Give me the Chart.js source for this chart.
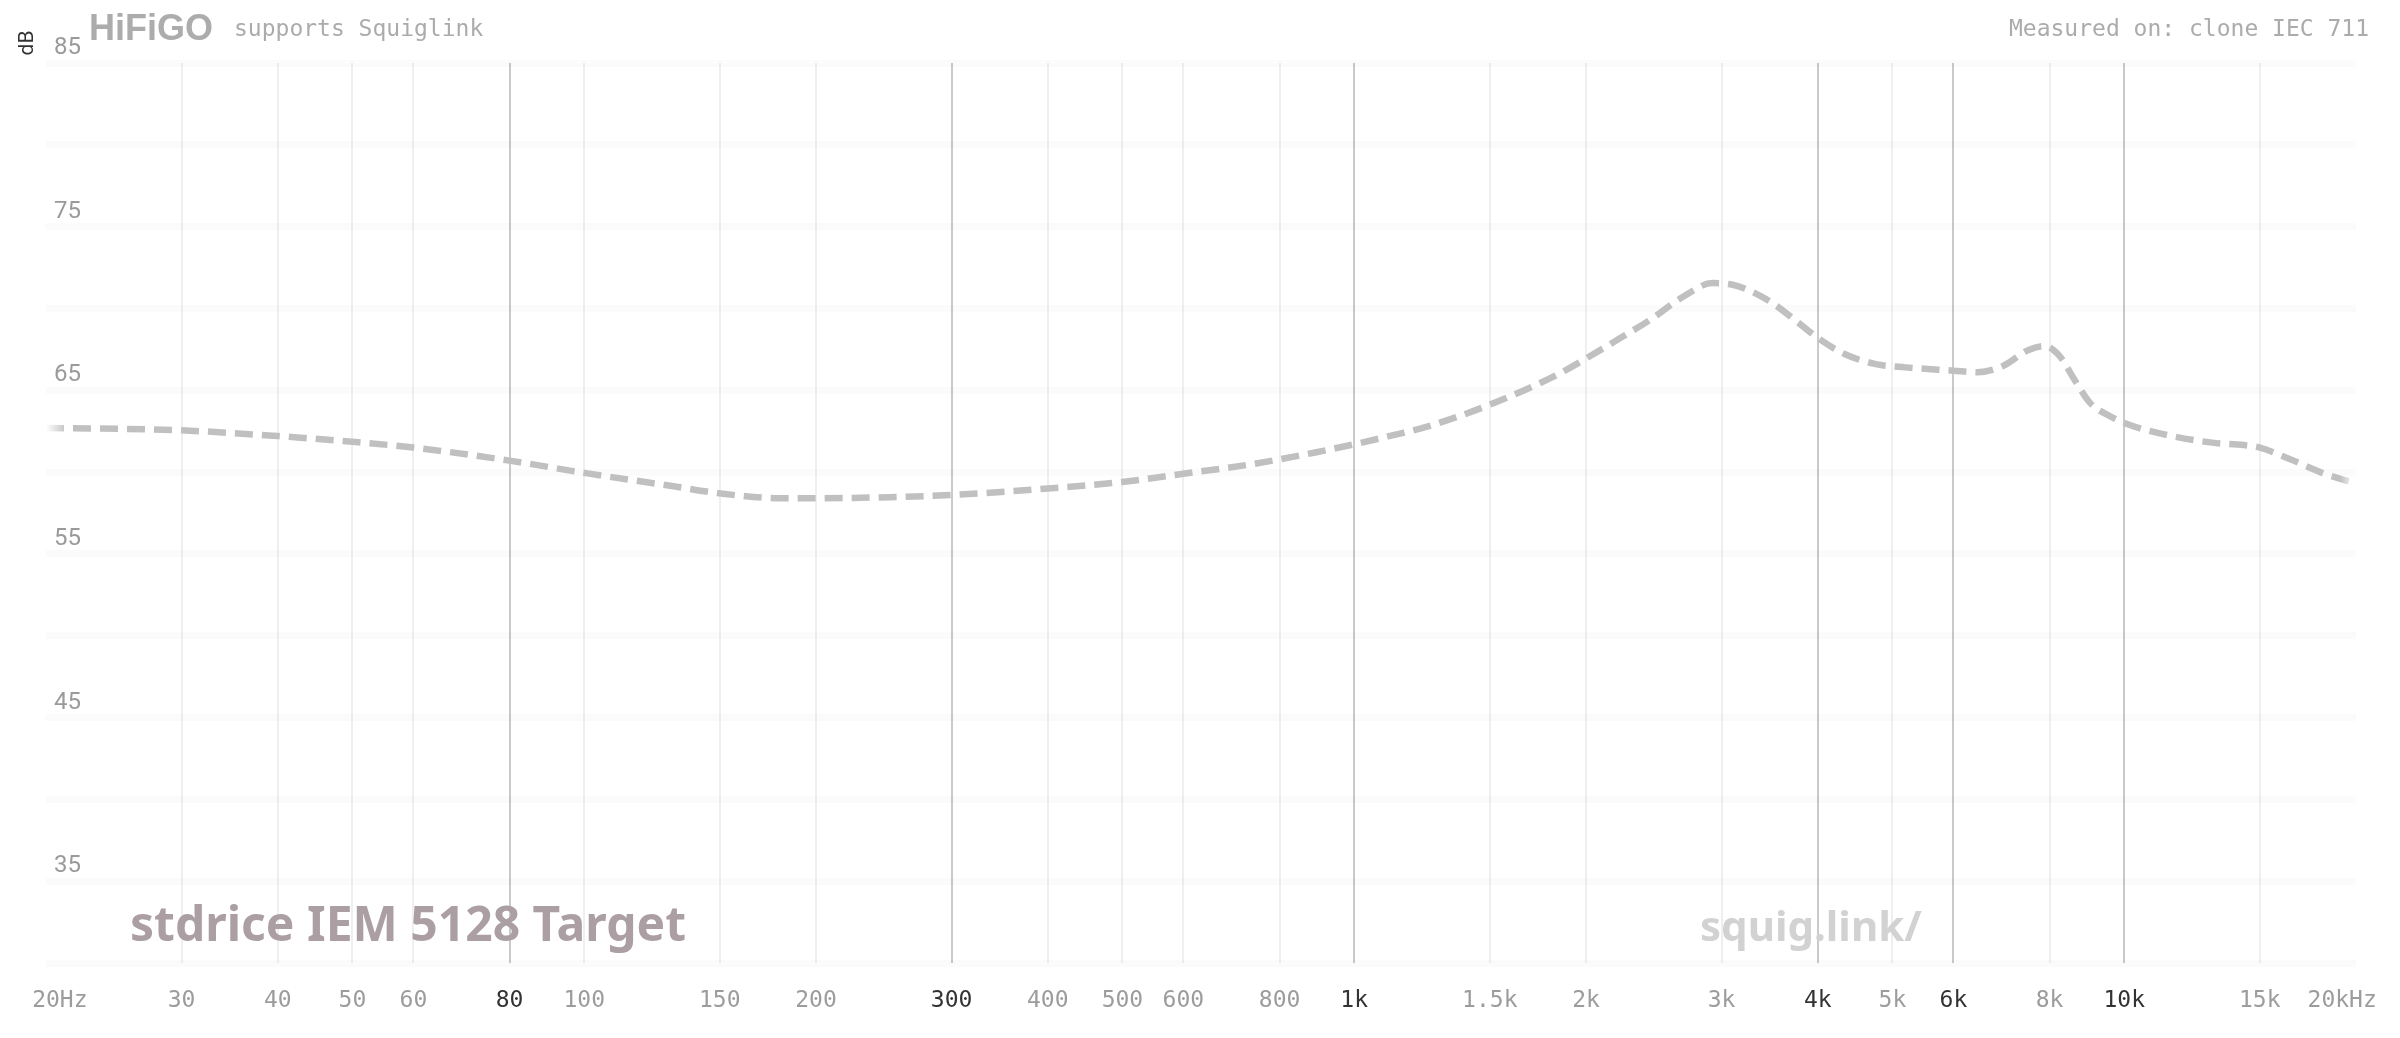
<!DOCTYPE html>
<html>
<head>
<meta charset="utf-8">
<title>stdrice IEM 5128 Target</title>
<script src="https://cdn.jsdelivr.net/npm/chart.js@4.4.1/dist/chart.umd.min.js"></script>
<style>
  html, body { margin: 0; padding: 0; background: #fff; }
  #wrap { width: 2400px; height: 1038px; }
</style>
</head>
<body>
<div id="wrap"><canvas id="fr" width="2400" height="1038"></canvas></div>
<script>
// frequency response (Hz / dB)
const freqs = [20, 30, 40, 50, 60, 80, 100, 130, 150, 180, 200, 250, 300, 400, 500, 600, 740, 890, 1000, 1120, 1240, 1360, 1500, 1655, 1830, 2000, 2210, 2420, 2670, 2920, 3100, 3240, 3500, 3780, 4000, 4340, 4760, 5200, 6000, 6450, 6970, 7500, 7870, 8240, 8630, 9040, 9600, 10000, 11160, 13000, 14300, 15000, 16400, 18200, 20000];
const spl = [62.7, 62.55, 62.2, 61.85, 61.5, 60.7, 59.95, 59.15, 58.7, 58.4, 58.4, 58.47, 58.6, 59.0, 59.4, 59.9, 60.5, 61.2, 61.7, 62.24, 62.76, 63.37, 64.12, 64.96, 65.92, 66.94, 68.16, 69.29, 70.7, 71.55, 71.45, 71.15, 70.3, 69.1, 68.2, 67.2, 66.6, 66.4, 66.2, 66.1, 66.5, 67.45, 67.7, 67.1, 65.6, 64.2, 63.4, 63.0, 62.35, 61.8, 61.65, 61.5, 60.8, 59.9, 59.3];

// x axis ticks
const xTicks = [20, 30, 40, 50, 60, 80, 100, 150, 200, 300, 400, 500, 600, 800, 1000, 1500, 2000, 3000, 4000, 5000, 6000, 8000, 10000, 15000, 20000];
const xLabels = ['  20Hz', '30', '40', '50', '60', '80', '100', '150', '200', '300', '400', '500', '600', '800', '1k', '1.5k', '2k', '3k', '4k', '5k', '6k', '8k', '10k', '15k', '20kHz  '];
const xStrong = [80, 300, 1000, 4000, 6000, 10000];

// y axis
const yMin = 30;
const yMax = 85;
const yLabelled = [85, 75, 65, 55, 45, 35];

const lineGrey = '192, 192, 192';

// header text, watermark and axis title
const decorPlugin = {
  id: 'decor',
  beforeDraw(chart) {
    const ctx = chart.ctx;
    ctx.save();
    ctx.textBaseline = 'middle';
    ctx.textAlign = 'left';

    // logo
    ctx.fillStyle = '#acacac';
    ctx.font = 'bold 36px "Liberation Sans"';
    ctx.fillText('HiFiGO', 89, 30);

    ctx.fillStyle = '#ababab';
    ctx.font = '23px "DejaVu Sans Mono"';
    ctx.fillText('supports Squiglink', 234, 30);
    ctx.textAlign = 'right';
    ctx.fillText('Measured on: clone IEC 711', 2369, 30);

    // y axis title
    ctx.translate(28, 43);
    ctx.rotate(-Math.PI / 2);
    ctx.textAlign = 'center';
    ctx.fillStyle = '#333';
    ctx.font = '21px Roboto';
    ctx.fillText('dB', 0, 0);
    ctx.restore();
  },
  beforeDatasetsDraw(chart) {
    const ctx = chart.ctx;
    ctx.save();
    ctx.textBaseline = 'middle';
    ctx.textAlign = 'left';
    ctx.fillStyle = '#ab9fa3';
    ctx.font = 'bold 48px "Noto Sans"';
    ctx.fillText('stdrice IEM 5128 Target', 130, 927);

    ctx.fillStyle = '#d2d2d2';
    ctx.font = 'bold 42px "Noto Sans"';
    ctx.fillText('squig.link/', 1700, 929);
    ctx.restore();
  }
};

function lineColor(context) {
  const area = context.chart.chartArea;
  if (!area) return 'rgb(' + lineGrey + ')';
  const g = context.chart.ctx.createLinearGradient(area.left, 0, area.right, 0);
  g.addColorStop(0, 'rgba(' + lineGrey + ', 0)');
  g.addColorStop(0.009, 'rgba(' + lineGrey + ', 1)');
  g.addColorStop(0.993, 'rgba(' + lineGrey + ', 1)');
  g.addColorStop(1, 'rgba(' + lineGrey + ', 0)');
  return g;
}

new Chart(document.getElementById('fr'), {
  type: 'line',
  data: {
    datasets: [{
      label: 'stdrice IEM 5128 Target',
      data: freqs.map((f, i) => ({ x: f, y: spl[i] })),
      borderColor: lineColor,
      borderWidth: 6.5,
      borderDash: [18, 9],
      borderCapStyle: 'butt',
      pointRadius: 0,
      cubicInterpolationMode: 'monotone',
      fill: false
    }]
  },
  options: {
    responsive: false,
    animation: false,
    devicePixelRatio: 1,
    layout: { padding: { left: 46, right: 44, top: 63, bottom: 0 } },
    plugins: {
      legend: { display: false },
      tooltip: { enabled: false }
    },
    scales: {
      x: {
        type: 'logarithmic',
        min: 20,
        max: 20000,
        afterBuildTicks: (scale) => {
          scale.ticks = xTicks.map(v => ({ value: v }));
        },
        afterFit: (scale) => {
          scale.height = 75;
          scale.paddingLeft = 0;
          scale.paddingRight = 0;
        },
        border: { display: false },
        grid: {
          drawTicks: false,
          lineWidth: 2,
          color: (c) => {
            const v = c.tick && c.tick.value;
            if (v === 20 || v === 20000) return 'rgba(0,0,0,0)';
            return xStrong.includes(v) ? '#cacaca' : '#efefef';
          }
        },
        ticks: {
          autoSkip: false,
          maxRotation: 0,
          padding: 24,
          font: { family: '"DejaVu Sans Mono"', size: 23 },
          color: (c) => xStrong.includes(c.tick && c.tick.value) ? '#333333' : '#9c9c9c',
          callback: (value, index) => xLabels[index]
        }
      },
      y: {
        min: yMin,
        max: yMax,
        afterFit: (scale) => {
          scale.width = 0;
          scale.paddingTop = 0;
          scale.paddingBottom = 0;
        },
        border: { display: false },
        grid: {
          drawTicks: false,
          lineWidth: 7,
          color: 'rgba(0, 0, 0, 0.016)'
        },
        ticks: {
          stepSize: 5,
          mirror: true,
          padding: 8,
          labelOffset: -15,
          font: { family: 'Roboto', size: 24 },
          color: '#9a9a9a',
          callback: (v) => yLabelled.includes(v) ? String(v) : ''
        }
      }
    }
  },
  plugins: [decorPlugin]
});
</script>
</body>
</html>
